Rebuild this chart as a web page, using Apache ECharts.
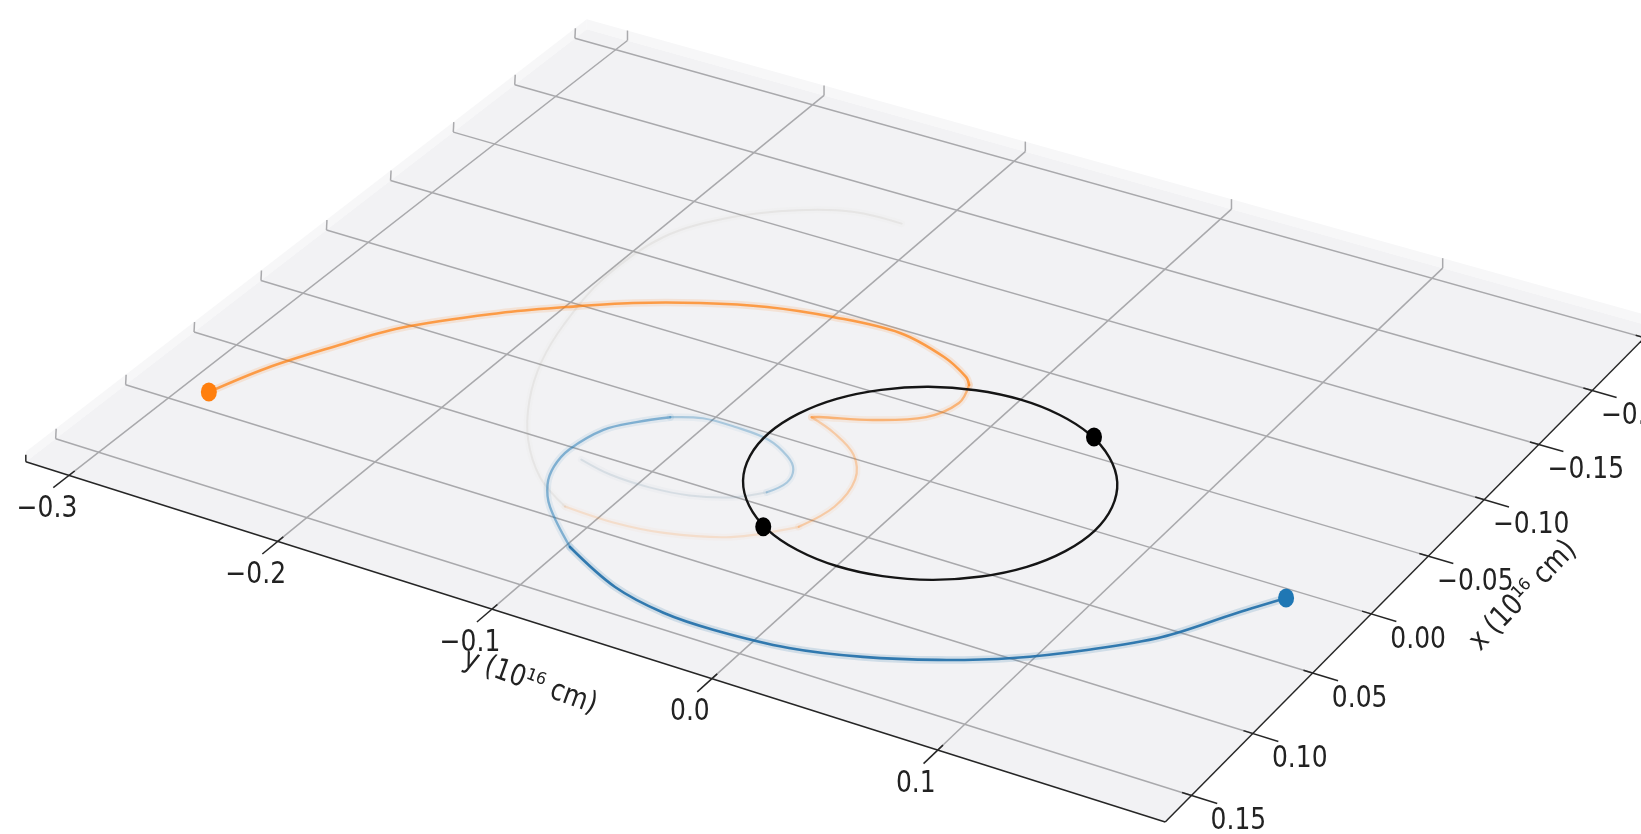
<!DOCTYPE html>
<html><head><meta charset="utf-8">
<script src="https://cdn.jsdelivr.net/npm/echarts@6/dist/echarts.min.js"></script>
<style>html,body{margin:0;padding:0;background:#fff}#c{width:1641px;height:834px}</style>
</head><body><div id="c"></div>
<script>
// ---------- data (units: 10^16 cm) ----------
const xLimits = [-0.26, 0.171];
const yLimits = [-0.321, 0.198];
const xTicks = [-0.25, -0.20, -0.15, -0.10, -0.05, 0.00, 0.05, 0.10, 0.15];
const xTickLabels = ['−0.25', '−0.20', '−0.15', '−0.10', '−0.05', '0.00', '0.05', '0.10', '0.15'];
const yTicks = [-0.3, -0.2, -0.1, 0.0, 0.1];
const yTickLabels = ['−0.3', '−0.2', '−0.1', '0.0', '0.1'];
const xTitle = 'x (10¹⁶ cm)';
const yTitle = 'y (10¹⁶ cm)';

// binary orbit [x, y]
const binaryOrbit = [
  [0.0750, 0.0000], [0.0724, 0.0194], [0.0650, 0.0375], [0.0530, 0.0530],
  [0.0375, 0.0650], [0.0194, 0.0724], [0.0000, 0.0750], [-0.0194, 0.0724],
  [-0.0375, 0.0650], [-0.0530, 0.0530], [-0.0650, 0.0375], [-0.0724, 0.0194],
  [-0.0750, 0.0000], [-0.0724, -0.0194], [-0.0650, -0.0375], [-0.0530, -0.0530],
  [-0.0375, -0.0650], [-0.0194, -0.0724], [0.0000, -0.0750], [0.0194, -0.0724],
  [0.0375, -0.0650], [0.0530, -0.0530], [0.0650, -0.0375], [0.0724, -0.0194]
];
const binaryStars = [[-0.064, 0.040], [0.064, -0.040]];

// third-body tracks, oldest -> newest [x, y]
const orangeTrack = [
  [-0.1780, -0.1145], [-0.1766, -0.1368], [-0.1657, -0.1582], [-0.1461, -0.1794],
  [-0.1170, -0.1953], [-0.0744, -0.1987], [-0.0328, -0.1927], [-0.0017, -0.1844],
  [0.0272, -0.1722], [0.0539, -0.1562], [0.0766, -0.1364], [0.0907, -0.1160],
  [0.0914, -0.0926], [0.0880, -0.0715], [0.0773, -0.0471], [0.0569, -0.0278],
  [0.0362, -0.0233], [0.0139, -0.0267], [-0.0026, -0.0370], [-0.0134, -0.0523],
  [-0.0196, -0.0664], [-0.0213, -0.0639], [-0.0303, -0.0438], [-0.0433, -0.0264],
  [-0.0599, -0.0204], [-0.0746, -0.0239], [-0.0797, -0.0282], [-0.0893, -0.0439],
  [-0.0973, -0.0693], [-0.0947, -0.0998], [-0.0880, -0.1276], [-0.0767, -0.1533],
  [-0.0626, -0.1773], [-0.0458, -0.1992], [-0.0275, -0.2205], [0.0040, -0.2495],
  [0.0312, -0.2649], [0.0593, -0.2788], [0.0876, -0.2885]
];
const blueTrack = [
  [0.0563, -0.1295], [0.0604, -0.1134], [0.0610, -0.0946], [0.0583, -0.0776],
  [0.0508, -0.0620], [0.0405, -0.0522], [0.0298, -0.0491], [0.0198, -0.0520],
  [0.0122, -0.0591], [0.0047, -0.0725], [0.0028, -0.0891], [0.0035, -0.1041],
  [0.0095, -0.1159], [0.0198, -0.1257], [0.0319, -0.1340], [0.0521, -0.1378],
  [0.0665, -0.1361], [0.0797, -0.1310], [0.0940, -0.1210], [0.1160, -0.0981],
  [0.1326, -0.0671], [0.1394, -0.0406], [0.1402, -0.0174], [0.1368, 0.0144],
  [0.1279, 0.0424], [0.1151, 0.0685], [0.0991, 0.0929], [0.0795, 0.1148],
  [0.0564, 0.1355], [0.0260, 0.1524], [0.0064, 0.1639]
];

// ---------- view / style ----------
const view = {
  // screen positions of the reference rectangle x in [0.15,-0.15], y in [-0.3,0.1]
  quad: [[98.7, 452.3], [964.8, 724.3], [1323, 382.4], [494.6, 144]],
  ref: { x0: 0.15, x1: -0.15, y0: -0.3, y1: 0.1 },
  wall: 10,
  yLabelOffset: [-22, 34],
  xLabelOffset: [47, 26],
  yTitleOffset: [38, 73],
  xTitleOffset: [95, 40],
  font: '25px "DejaVu Sans"',
  textStretch: 1.18
};
// fade chunks: [fromIndex, toIndex, color, opacity, width]
const orangeFade = [[0, 11, '#a09890', 0.13, 2], [11, 15, '#ff7f0e', 0.15, 2.2], [15, 20, '#ff7f0e', 0.3, 2.2], [20, 25, '#ff7f0e', 0.5, 2.4], [25, 38, '#ff7f0e', 0.72, 2.6]];
const blueFade = [[0, 5, '#7f9bb0', 0.2, 2], [5, 12, '#1f77b4', 0.3, 2.2], [12, 19, '#1f77b4', 0.5, 2.4], [19, 30, '#1f6ea8', 0.9, 2.6]];

function makeH(q) {
  const [p0, p1, p2, p3] = q;
  const dx1 = p1[0] - p2[0], dx2 = p3[0] - p2[0], dx3 = p0[0] - p1[0] + p2[0] - p3[0];
  const dy1 = p1[1] - p2[1], dy2 = p3[1] - p2[1], dy3 = p0[1] - p1[1] + p2[1] - p3[1];
  const den = dx1 * dy2 - dx2 * dy1;
  const g = (dx3 * dy2 - dx2 * dy3) / den;
  const h = (dx1 * dy3 - dx3 * dy1) / den;
  return { a: p1[0] - p0[0] + g * p1[0], b: p3[0] - p0[0] + h * p3[0], c: p0[0],
           d: p1[1] - p0[1] + g * p1[1], e: p3[1] - p0[1] + h * p3[1], f: p0[1], g, h };
}
const H = makeH(view.quad);
function proj(x, y) {
  const u = (y - view.ref.y0) / (view.ref.y1 - view.ref.y0);
  const v = (x - view.ref.x0) / (view.ref.x1 - view.ref.x0);
  const w = H.g * u + H.h * v + 1;
  return [(H.a * u + H.b * v + H.c) / w, (H.d * u + H.e * v + H.f) / w];
}

const [xmin, xmax] = xLimits, [ymin, ymax] = yLimits;
const cA = proj(xmax, ymin), cB = proj(xmax, ymax), cC = proj(xmin, ymax), cD = proj(xmin, ymin);

const gridSegs = [];
xTicks.forEach(t => { const a = proj(t, ymin), b = proj(t, ymax); gridSegs.push([a[0], a[1], b[0], b[1]]); });
yTicks.forEach(t => { const a = proj(xmin, t), b = proj(xmax, t); gridSegs.push([a[0], a[1], b[0], b[1]]); });
xTicks.forEach(t => { const a = proj(t, ymin); gridSegs.push([a[0], a[1], a[0] + 0.5, a[1] - view.wall]); });
yTicks.forEach(t => { const a = proj(xmin, t); gridSegs.push([a[0], a[1], a[0], a[1] - view.wall]); });

const axisSegs = [[cA[0], cA[1], cB[0], cB[1]], [cB[0], cB[1], cC[0], cC[1]], [cA[0], cA[1], cA[0], cA[1] - 7]];
yTicks.forEach(t => { const a = proj(xmax - 0.004, t), b = proj(xmax + 0.011, t); axisSegs.push([a[0], a[1], b[0], b[1]]); });
xTicks.forEach(t => { const a = proj(t, ymax - 0.004), b = proj(t, ymax + 0.011); axisSegs.push([a[0], a[1], b[0], b[1]]); });

const labelData = [], labelText = [], labelRot = [];
yTicks.forEach((t, i) => { const p = proj(xmax, t); labelData.push([p[0] + view.yLabelOffset[0], p[1] + view.yLabelOffset[1]]); labelText.push(yTickLabels[i]); labelRot.push(0); });
xTicks.forEach((t, i) => { const p = proj(t, ymax); labelData.push([p[0] + view.xLabelOffset[0], p[1] + view.xLabelOffset[1]]); labelText.push(xTickLabels[i]); labelRot.push(0); });
{ const p = proj(xmax, -0.1); labelData.push([p[0] + view.yTitleOffset[0], p[1] + view.yTitleOffset[1]]); labelText.push(yTitle); labelRot.push(-20); }
{ const p = proj(-0.05, ymax); labelData.push([p[0] + view.xTitleOffset[0], p[1] + view.xTitleOffset[1]]); labelText.push(xTitle); labelRot.push(46); }

const P = pts => pts.map(p => proj(p[0], p[1]));
const orangePx = P(orangeTrack), bluePx = P(blueTrack), orbitPx = P(binaryOrbit);

const series = [];
series.push({
  type: 'custom', z: 1, silent: true, clip: false, data: [[0, 0]],
  renderItem: (params, api) => {
    const c = p => api.coord(p);
    const up = p => { const q = c(p); return [q[0], q[1] - view.wall]; };
    return { type: 'group', children: [
      { type: 'polygon', shape: { points: [c(cA), c(cD), up(cD), up(cA)] }, style: { fill: '#f7f7f8' } },
      { type: 'polygon', shape: { points: [c(cD), c(cC), up(cC), up(cD)] }, style: { fill: '#f7f7f8' } },
      { type: 'polygon', shape: { points: [c(cA), c(cB), c(cC), c(cD)] }, style: { fill: '#f2f2f4' } }
    ] };
  }
});
series.push({
  type: 'custom', z: 2, silent: true, clip: false, data: gridSegs, encode: { x: [0, 2], y: [1, 3] },
  renderItem: (params, api) => {
    const a = api.coord([api.value(0), api.value(1)]), b = api.coord([api.value(2), api.value(3)]);
    return { type: 'line', shape: { x1: a[0], y1: a[1], x2: b[0], y2: b[1] }, style: { stroke: '#a9a9ac', lineWidth: 1.5 } };
  }
});
series.push({
  type: 'custom', z: 3, silent: true, clip: false, data: axisSegs, encode: { x: [0, 2], y: [1, 3] },
  renderItem: (params, api) => {
    const a = api.coord([api.value(0), api.value(1)]), b = api.coord([api.value(2), api.value(3)]);
    return { type: 'line', shape: { x1: a[0], y1: a[1], x2: b[0], y2: b[1] }, style: { stroke: '#262626', lineWidth: 1.5 } };
  }
});
function trackChildren(api, px, fades) {
  const out = [];
  fades.forEach(([i0, i1, color, op, w]) => {
    const pts = px.slice(i0, i1 + 1).map(p => api.coord(p));
    out.push({ type: 'polyline', shape: { points: pts, smooth: 0.35 },
      style: { stroke: color, opacity: op * 0.18, lineWidth: w + 5, fill: null, lineCap: 'round', lineJoin: 'round' } });
    out.push({ type: 'polyline', shape: { points: pts, smooth: 0.35 },
      style: { stroke: color, opacity: op, lineWidth: w, fill: null, lineCap: 'round', lineJoin: 'round' } });
  });
  return out;
}
series.push({
  type: 'custom', z: 4, silent: true, clip: false, data: [[0, 0]],
  renderItem: (params, api) => ({ type: 'group', children: trackChildren(api, orangePx, orangeFade).concat(trackChildren(api, bluePx, blueFade)) })
});
series.push({
  type: 'custom', z: 6, silent: true, clip: false, data: [[0, 0]],
  renderItem: (params, api) => ({ type: 'polygon', shape: { points: orbitPx.map(p => api.coord(p)), smooth: 0.35 },
    style: { stroke: '#151515', lineWidth: 2.4, fill: null } })
});
series.push({ type: 'scatter', z: 8, silent: true, clip: false, symbolSize: [16, 19],
  data: [
    { value: orangePx[orangePx.length - 1], itemStyle: { color: '#ff7f0e', opacity: 1 } },
    { value: bluePx[bluePx.length - 1], itemStyle: { color: '#1f77b4', opacity: 1 } },
    ...binaryStars.map(s => ({ value: proj(s[0], s[1]), itemStyle: { color: '#000000', opacity: 1 } }))
  ] });
series.push({
  type: 'custom', z: 9, silent: true, clip: false, data: labelData,
  renderItem: (params, api) => {
    const p = api.coord([api.value(0), api.value(1)]);
    const i = params.dataIndex;
    return { type: 'text', x: p[0], y: p[1], rotation: labelRot[i] * Math.PI / 180, scaleX: 1, scaleY: view.textStretch,
      style: { text: labelText[i], fill: '#222222', font: view.font, align: 'center', verticalAlign: 'middle' } };
  }
});

const chart = echarts.init(document.getElementById('c'), null, { width: 1641, height: 834 });
chart.setOption({
  animation: false,
  backgroundColor: '#ffffff',
  grid: { left: 0, right: 0, top: 0, bottom: 0 },
  xAxis: { type: 'value', min: 0, max: 1641, show: false },
  yAxis: { type: 'value', min: 0, max: 834, inverse: true, show: false },
  series: series
});
</script></body></html>
